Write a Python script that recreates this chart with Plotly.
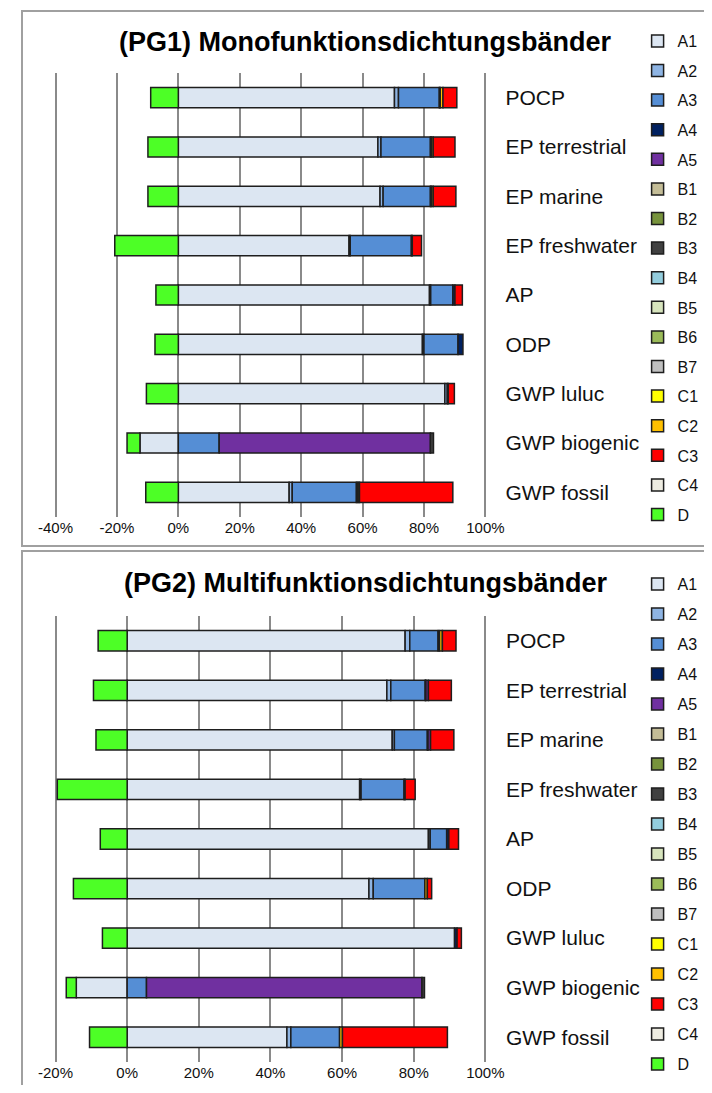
import plotly.graph_objects as go

# Reference canvas and the page offset (browser body margin)
W, H = 712, 1093
OX, OY = 8, 8
FW, FH = W - OX, H - 2 * OY

categories = ["POCP", "EP terrestrial", "EP marine", "EP freshwater", "AP",
              "ODP", "GWP luluc", "GWP biogenic", "GWP fossil"]
series = ["A1", "A2", "A3", "A4", "A5", "B1", "B2", "B3", "B4", "B5", "B6", "B7",
          "C1", "C2", "C3", "C4", "D"]
colors = ["#DCE6F2", "#8EB4E3", "#558ED5", "#002060", "#7030A0", "#C4BD97",
          "#77933C", "#404040", "#93CDDD", "#D7E4BD", "#9BBB59", "#BFBFBF",
          "#FFFF00", "#FFC000", "#FF0000", "#EEECE1", "#4DFF26"]

title1 = "(PG1) Monofunktionsdichtungsbänder"
title2 = "(PG2) Multifunktionsdichtungsbänder"
ticks1 = [-40, -20, 0, 20, 40, 60, 80, 100]
ticks2 = [-20, 0, 20, 40, 60, 80, 100]

# PG1 values (%), order follows categories
pg1_A1 = [70.4, 65.0, 65.7, 55.6, 81.8, 79.5, 86.8, -12.5, 36.1]
pg1_A2 = [1.3, 1.0, 1.0, 0.4, 0.4, 0.5, 0.8, 0, 1.0]
pg1_A3 = [13.3, 16.1, 15.4, 19.9, 7.2, 11.1, 0, 13.3, 20.9]
pg1_A4 = [0.3, 0.3, 0.3, 0.3, 0.7, 1.6, 0.3, 0, 0.5]
pg1_A5 = [0, 0, 0, 0, 0, 0, 0, 68.8, 0]
pg1_B3 = [0, 0, 0, 0, 0, 0, 0, 1.0, 0]
pg1_C2 = [0.9, 0.6, 0.6, 0, 0, 0, 0, 0, 0.5]
pg1_C3 = [4.5, 7.1, 7.4, 3.0, 2.4, 0, 2.0, 0, 30.4]
pg1_D = [-9.0, -9.9, -9.9, -20.7, -7.3, -7.6, -10.4, -4.2, -10.6]

# PG2 values (%)
pg2_A1 = [77.6, 72.5, 74.0, 64.9, 84.1, 67.5, 91.4, -14.2, 44.6]
pg2_A2 = [1.3, 1.1, 0.6, 0.4, 0.5, 1.2, 0, 0, 1.1]
pg2_A3 = [7.9, 9.6, 9.2, 12.0, 4.6, 14.4, 0, 5.4, 13.6]
pg2_A4 = [0.4, 0.2, 0.2, 0.3, 0.6, 0, 0.7, 0, 0]
pg2_A5 = [0, 0.7, 0.7, 0, 0, 0, 0, 76.9, 0]
pg2_B3 = [0, 0, 0, 0, 0, 0, 0, 0.7, 0]
pg2_C2 = [0.8, 0, 0, 0, 0, 0.7, 0, 0, 0.8]
pg2_C3 = [3.8, 6.4, 6.5, 2.8, 2.7, 1.2, 1.2, 0, 29.3]
pg2_D = [-8.1, -9.4, -8.7, -19.5, -7.5, -15.0, -6.9, -2.8, -10.5]

zeros = [0] * len(categories)
pg1 = {"A1": pg1_A1, "A2": pg1_A2, "A3": pg1_A3, "A4": pg1_A4, "A5": pg1_A5,
       "B3": pg1_B3, "C2": pg1_C2, "C3": pg1_C3, "D": pg1_D}
pg2 = {"A1": pg2_A1, "A2": pg2_A2, "A3": pg2_A3, "A4": pg2_A4, "A5": pg2_A5,
       "B3": pg2_B3, "C2": pg2_C2, "C3": pg2_C3, "D": pg2_D}

FONT = "Liberation Sans, Arial, sans-serif"

fig = go.Figure()
for panel, (data, xa, ya, leg) in enumerate([(pg1, "x", "y", "legend"),
                                              (pg2, "x2", "y2", "legend2")]):
    for name, col in zip(series, colors):
        vals = data.get(name, zeros)
        vals = [v if v != 0 else None for v in vals]
        fig.add_trace(go.Bar(
            y=categories, x=vals, name=name, orientation="h",
            xaxis=xa, yaxis=ya, legend=leg,
            legendgroup=f"p{panel}{name}",
            marker=dict(color=col, line=dict(color="#1e1e1e", width=1.5)),
            hoverinfo="x+y+name",
        ))


def px(p):
    return (p - OX) / FW


def py(p):
    return 1 - (p - OY) / FH


def pct_labels(vals):
    return [f"{v}%" for v in vals]


axis_x_common = dict(showgrid=True, gridcolor="#8a8a8a", gridwidth=1.5,
                     zeroline=False, showline=False, ticks="", tickmode="array",
                     tickfont=dict(family=FONT, size=15, color="#111"))
axis_y_common = dict(type="category", autorange="reversed", side="right",
                     showgrid=False, showline=False, ticks="",
                     ticklabelstandoff=16,
                     tickfont=dict(family=FONT, size=21, color="#111"))

legend_common = dict(orientation="v", traceorder="grouped",
                     font=dict(family=FONT, size=16, color="#111"),
                     bgcolor="rgba(0,0,0,0)", itemwidth=30,
                     xanchor="left", yanchor="top")

# pixel scale: panel 1 -> 140 % over 449 px, panel 2 -> 120 % over 449 px
s1 = 449 / 140
s2 = 449 / 120

fig.update_layout(
    width=FW, height=FH, margin=dict(l=0, r=0, t=0, b=0),
    paper_bgcolor="white", plot_bgcolor="white",
    barmode="relative", bargap=0.59, showlegend=True,
    xaxis=dict(domain=[px(43 - s1), px(492 + s1)], range=[-41, 101],
               tickvals=ticks1, ticktext=pct_labels(ticks1),
               anchor="y", **axis_x_common),
    yaxis=dict(domain=[py(517), py(73)], anchor="x", **axis_y_common),
    xaxis2=dict(domain=[px(43 - s2), px(492 + s2)], range=[-21, 101],
                tickvals=ticks2, ticktext=pct_labels(ticks2),
                anchor="y2", **axis_x_common),
    yaxis2=dict(domain=[py(1062), py(616)], anchor="x2", **axis_y_common),
    legend=dict(x=px(651), y=py(24), tracegroupgap=5.8, **legend_common),
    legend2=dict(x=px(651), y=py(567), tracegroupgap=6.2, **legend_common),
    annotations=[
        dict(text=f"<b>{title1}</b>", x=px(366), y=py(42), xref="paper", yref="paper",
             showarrow=False, xanchor="center", yanchor="middle",
             font=dict(family=FONT, size=27, color="#000")),
        dict(text=f"<b>{title2}</b>", x=px(367), y=py(583), xref="paper", yref="paper",
             showarrow=False, xanchor="center", yanchor="middle",
             font=dict(family=FONT, size=27, color="#000")),
    ],
    shapes=[
        dict(type="rect", xref="paper", yref="paper", x0=px(8), x1=px(740),
             y0=py(546), y1=py(11), line=dict(color="#a0a0a0", width=2), layer="below"),
        dict(type="rect", xref="paper", yref="paper", x0=px(8), x1=px(740),
             y0=py(1120), y1=py(551), line=dict(color="#a0a0a0", width=2), layer="below"),
    ],
)

fig.write_html("out.html")
